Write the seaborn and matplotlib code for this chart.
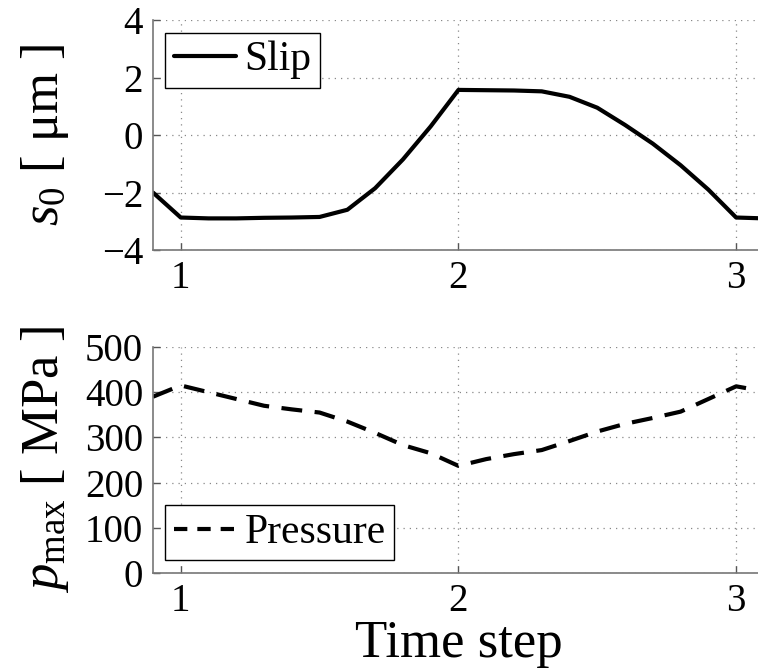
import numpy as np
import pandas as pd
import matplotlib
matplotlib.use("Agg")
import matplotlib.pyplot as plt
import seaborn as sns

# Datos (paso de tiempo 0.1)
paso = [0.9, 1.0, 1.1, 1.2, 1.3, 1.4, 1.5, 1.6, 1.7, 1.8, 1.9, 2.0,
        2.1, 2.2, 2.3, 2.4, 2.5, 2.6, 2.7, 2.8, 2.9, 3.0, 3.1]
slip = [-2.0, -2.87, -2.9, -2.9, -2.88, -2.87, -2.85, -2.6, -1.85, -0.85, 0.3, 1.57,
        1.56, 1.55, 1.52, 1.33, 0.95, 0.35, -0.3, -1.05, -1.9, -2.87, -2.9]
presion = [390, 415, 400, 385, 370, 362, 355, 335, 310, 283, 265, 237,
           252, 263, 272, 292, 313, 330, 343, 357, 385, 413, 402]

xticks = [1, 2, 3]
yticks_slip = [-4, -2, 0, 2, 4]
yticks_pres = [0, 100, 200, 300, 400, 500]

datos = pd.DataFrame({'paso': paso, 'slip': slip, 'presion': presion})

sns.set_style('ticks')
plt.rcParams['font.family'] = ['Liberation Serif', 'DejaVu Serif']
plt.rcParams['mathtext.fontset'] = 'custom'
plt.rcParams['mathtext.rm'] = 'Liberation Serif'
plt.rcParams['mathtext.it'] = 'Liberation Serif:italic'
plt.rcParams['axes.unicode_minus'] = True
for clave in ['text.color', 'axes.labelcolor', 'xtick.labelcolor', 'ytick.labelcolor']:
    plt.rcParams[clave] = 'black'

fig = plt.figure(figsize=(7.58, 6.69), dpi=100)
ax1 = fig.add_axes([0.2018, 0.6263, 0.806, 0.3437])
ax2 = fig.add_axes([0.2018, 0.1435, 0.806, 0.3378])

def estilo(ax):
    ax.grid(True, linestyle=(0, (1, 4)), color='#888888', linewidth=0.9)
    ax.spines['top'].set_visible(False)
    ax.spines['right'].set_visible(False)
    for s in ['left', 'bottom']:
        ax.spines[s].set_color('#777777')
        ax.spines[s].set_linewidth(1.2)
    ax.tick_params(direction='in', length=5, width=1, color='#555555',
                   labelsize=28, pad=7, labelcolor='black')
    ax.set_xlim(0.9, 3.1)
    ax.set_xticks(xticks)

# === Slip ===
sns.lineplot(x='paso', y='slip', data=datos, ax=ax1, color='black',
             linewidth=3, label='Slip')
estilo(ax1)
ax1.set_ylim(-4, 4)
ax1.set_yticks(yticks_slip)
ax1.set_xlabel('')
ax1.set_ylabel(r'$s_\mathrm{0}$ [ μm ]', fontsize=38, labelpad=22)
ax1.legend(loc='upper left', fontsize=30, frameon=True, fancybox=False,
           edgecolor='black', handlelength=1.5, handletextpad=0.2,
           borderpad=0.2, borderaxespad=0.3, framealpha=1)

# === Pressure ===
sns.lineplot(x='paso', y='presion', data=datos, ax=ax2, color='black',
             linewidth=3, label='Pressure')
estilo(ax2)
ax2.set_ylim(0, 500)
ax2.set_yticks(yticks_pres)
ax2.set_xlabel('Time step', fontsize=38, labelpad=0)
ax2.set_ylabel(r'$p_\mathrm{max}$ [ MPa ]', fontsize=38, labelpad=10)
for linea in ax2.get_lines():
    linea.set_dashes((5, 3))
leg = ax2.legend(loc='lower left', fontsize=30, frameon=True, fancybox=False,
                 edgecolor='black', handlelength=1.5, handletextpad=0.2,
                 borderpad=0.2, borderaxespad=0.3, framealpha=1)
for linea in leg.get_lines():
    linea.set_dashes((3.2, 2.4))

fig.savefig('out.png', dpi=100)
